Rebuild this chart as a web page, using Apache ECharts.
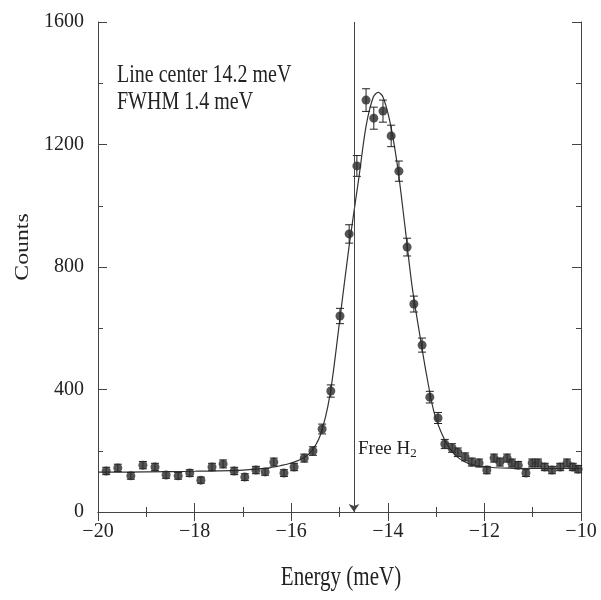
<!DOCTYPE html>
<html>
<head>
<meta charset="utf-8">
<script src="https://cdn.jsdelivr.net/npm/echarts@6/dist/echarts.min.js"></script>
<style>
html,body{margin:0;padding:0;background:#fff}
#chart{width:601px;height:600px}
</style>
</head>
<body>
<div id="chart"></div>
<script>
var energy = [-19.83,-19.59,-19.32,-19.07,-18.82,-18.59,-18.34,-18.10,-17.87,-17.64,
  -17.41,-17.18,-16.96,-16.73,-16.54,-16.36,-16.15,-15.94,-15.73,-15.55,
  -15.36,-15.18,-14.99,-14.80,-14.64,-14.45,-14.29,-14.10,-13.93,-13.77,
  -13.60,-13.46,-13.29,-13.13,-12.96,-12.82,-12.67,-12.55,-12.40,-12.26,
  -12.11,-11.95,-11.80,-11.68,-11.53,-11.43,-11.30,-11.14,-11.01,-10.89,
  -10.75,-10.60,-10.43,-10.29,-10.17,-10.06];
var counts = [134,144,118,153,147,121,118,127,104,147,
  157,134,114,137,131,163,127,147,176,199,
  271,395,640,908,1130,1345,1286,1309,1228,1113,
  865,679,545,375,307,222,209,195,180,163,
  160,137,176,163,176,160,153,127,160,160,
  147,137,147,160,147,140];
var errors = [12,12,11,12,12,11,11,11,10,12,
  13,12,11,12,11,13,11,12,13,14,
  16,20,25,30,34,37,36,36,35,33,
  29,26,23,19,18,15,14,14,13,13,
  13,12,13,13,13,13,12,11,13,13,
  12,12,12,13,12,12];

// fitted line
var fitEnergy = [-20,-19,-18,-17,-16.5,-16.2,-16,-15.8,-15.6,-15.4,-15.2,-15.0,-14.8,-14.6,
  -14.45,-14.3,-14.2,-14.1,-13.95,-13.8,-13.65,-13.5,-13.35,-13.2,-13.05,-12.9,-12.75,
  -12.6,-12.4,-12.2,-12,-11.5,-11,-10];
var fitCounts = [130,131,133,137,143,152,160,172,195,250,380,620,870,1090,
  1260,1355,1370,1355,1270,1130,940,740,590,450,330,262,215,
  185,163,152,147,143,142,142];

var freeH2 = -14.7;
var serif = 'Liberation Serif';

function minus(v){ return String(v).replace('-', '\u2212'); }

var chart = echarts.init(document.getElementById('chart'));

var tickX = {show:true, inside:true, length:9, lineStyle:{color:'#444'}};
var minorX = {show:true, splitNumber:2, length:5, lineStyle:{color:'#444'}};
var frame = {show:true, lineStyle:{color:'#444', width:1}};

var option = {
  animation:false,
  grid:{left:98, right:20, top:22, bottom:88},
  xAxis:[
    {type:'value', position:'bottom', min:-20, max:-10, interval:2,
      axisLine:frame, axisTick:tickX, minorTick:minorX, splitLine:{show:false},
      axisLabel:{formatter:minus, fontFamily:serif, fontSize:20, color:'#222', margin:10}},
    {type:'value', position:'top', min:-20, max:-10, interval:2,
      axisLine:frame, axisTick:tickX, minorTick:minorX, splitLine:{show:false}, axisLabel:{show:false}}
  ],
  yAxis:[
    {type:'value', position:'left', min:0, max:1600, interval:400,
      axisLine:frame, axisTick:tickX, minorTick:minorX, splitLine:{show:false},
      axisLabel:{formatter:function(v){ return String(v); }, fontFamily:serif, fontSize:20, color:'#222', margin:14}},
    {type:'value', position:'right', min:0, max:1600, interval:400,
      axisLine:frame, axisTick:tickX, minorTick:minorX, splitLine:{show:false}, axisLabel:{show:false}}
  ],
  graphic:[
    {type:'text', x:117, y:75, scaleY:1.3, style:{text:'Line center 14.2 meV', font:'20px "Liberation Serif"', fill:'#222', verticalAlign:'middle'}},
    {type:'text', x:117, y:102, scaleY:1.3, style:{text:'FWHM 1.4 meV', font:'20px "Liberation Serif"', fill:'#222', verticalAlign:'middle'}},
    {type:'text', x:341, y:578, scaleY:1.25, style:{text:'Energy (meV)', font:'21px "Liberation Serif"', fill:'#222', align:'center', verticalAlign:'middle'}},
    {type:'text', x:23, y:247, rotation:Math.PI/2, scaleX:1.25, style:{text:'Counts', font:'19px "Liberation Serif"', fill:'#222', align:'center', verticalAlign:'middle'}}
  ],
  series:[
    {
      name:'fit', type:'line', smooth:0.3,
      data:fitEnergy.map(function(e,i){ return [e, fitCounts[i]]; }),
      symbol:'none', lineStyle:{color:'#333', width:1.2}, z:2,
      markLine:{
        silent:true, symbol:['none','arrow'], symbolSize:8,
        label:{show:false},
        lineStyle:{color:'#444', width:1, type:'solid'},
        data:[[{coord:[freeH2,1600]},{coord:[freeH2,0]}]]
      },
      markPoint:{
        silent:true, symbol:'circle', symbolSize:0,
        label:{show:true, position:'right', distance:4,
          formatter:'Free H{s|2}',
          fontFamily:serif, fontSize:19, color:'#222',
          rich:{s:{fontFamily:serif, fontSize:13, color:'#222', verticalAlign:'bottom', padding:[9,0,0,0]}}},
        data:[{coord:[freeH2,205]}]
      }
    },
    {
      name:'errors', type:'custom',
      data:energy.map(function(e,i){ return [e, counts[i]-errors[i], counts[i]+errors[i]]; }),
      encode:{x:0, y:[1,2]},
      renderItem:function(params, api){
        var top = api.coord([api.value(0), api.value(2)]);
        var bot = api.coord([api.value(0), api.value(1)]);
        var w = 4;
        var st = {stroke:'#222', lineWidth:1};
        return {type:'group', children:[
          {type:'line', shape:{x1:top[0], y1:top[1], x2:bot[0], y2:bot[1]}, style:st},
          {type:'line', shape:{x1:top[0]-w, y1:top[1], x2:top[0]+w, y2:top[1]}, style:st},
          {type:'line', shape:{x1:bot[0]-w, y1:bot[1], x2:bot[0]+w, y2:bot[1]}, style:st}
        ]};
      },
      z:3
    },
    {
      name:'data', type:'scatter',
      data:energy.map(function(e,i){ return [e, counts[i]]; }),
      symbol:'circle', symbolSize:9,
      itemStyle:{color:'#2b2b2b'}, z:4
    }
  ]
};
chart.setOption(option);
</script>
</body>
</html>
